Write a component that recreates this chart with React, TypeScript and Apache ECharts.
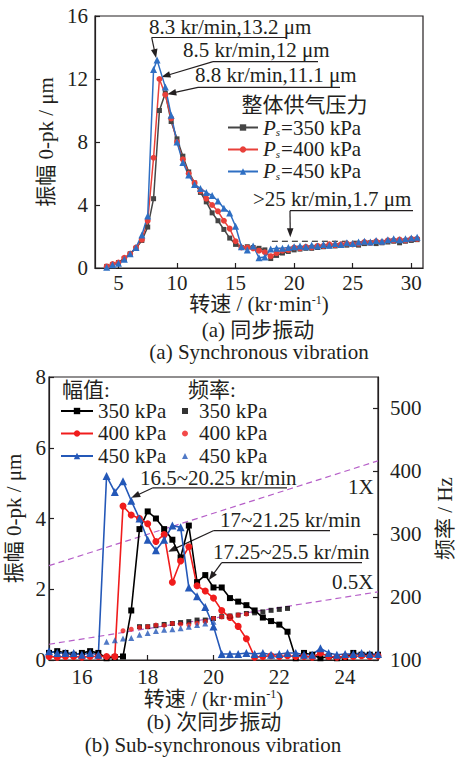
import React, { useEffect, useRef } from 'react';
import * as echarts from 'echarts';

const FONT = '"Liberation Serif", "Times New Roman", "Noto Sans CJK SC", serif';
const INK = '#231f20';
const BLACK_A = '#454545';
const RED_A = '#e8403a';
const BLUE_A = '#2f6fc3';
const BLACK_B = '#000000';
const RED_B = '#f01c1c';
const BLUE_B = '#2458b8';
const PURPLE = '#b65fc8';

// ---------- (a) synchronous vibration ----------
const pressureNames = ['Ps=350 kPa', 'Ps=400 kPa', 'Ps=450 kPa'];
const xTicksA = [5, 10, 15, 20, 25, 30];

const speedA350 = [4, 4.5, 5, 5.5, 6, 6.5, 7, 7.5, 8, 8.5, 9, 9.5, 10, 10.5, 11, 11.5, 12, 12.5, 13, 13.5, 14, 14.5, 15, 15.5, 16, 16.5, 17, 17.5, 18, 18.5, 19, 19.5, 20, 20.5, 21, 21.5, 22, 22.5, 23, 23.5, 24, 24.5, 25, 25.5, 26, 26.5, 27, 27.5, 28, 28.5, 29, 29.5, 30, 30.5];
const ampA350 = [0.1, 0.2, 0.35, 0.6, 0.9, 1.25, 1.75, 2.6, 4.4, 10.0, 11.1, 9.3, 8.2, 7.1, 6.1, 5.4, 4.8, 4.2, 3.5, 3.0, 2.45, 1.9, 1.5, 1.3, 1.35, 1.3, 1.25, 1.15, 0.6, 0.8, 0.95, 1.05, 1.15, 1.2, 1.25, 1.25, 1.3, 1.35, 1.4, 1.4, 1.45, 1.45, 1.5, 1.45, 1.55, 1.6, 1.55, 1.6, 1.65, 1.7, 1.6, 1.7, 1.75, 1.8];

const speedA400 = [4, 4.5, 5, 5.5, 6, 6.5, 7, 7.5, 8, 8.5, 9, 9.5, 10, 10.5, 11, 11.5, 12, 12.5, 13, 13.5, 14, 14.5, 15, 15.5, 16, 16.5, 17, 17.5, 18, 18.5, 19, 19.5, 20, 20.5, 21, 21.5, 22, 22.5, 23, 23.5, 24, 24.5, 25, 25.5, 26, 26.5, 27, 27.5, 28, 28.5, 29, 29.5, 30, 30.5];
const ampA400 = [0.1, 0.25, 0.35, 0.65, 0.9, 1.3, 1.8, 3.0, 7.0, 12.0, 11.0, 9.5, 8.0, 6.9, 6.0, 5.4, 4.9, 4.4, 4.0, 3.6, 3.0, 2.5, 1.7, 1.3, 1.3, 1.25, 1.1, 1.0, 0.75, 0.95, 1.1, 1.15, 1.3, 1.25, 1.35, 1.3, 1.4, 1.4, 1.5, 1.45, 1.5, 1.55, 1.5, 1.55, 1.65, 1.6, 1.7, 1.65, 1.75, 1.75, 1.8, 1.75, 1.85, 1.85];

const speedA450 = [4, 4.5, 5, 5.5, 6, 6.5, 7, 7.5, 8, 8.3, 9, 9.5, 10, 10.5, 11, 11.5, 12, 12.5, 13, 13.5, 14, 14.5, 15, 15.5, 16, 16.5, 17, 17.5, 18, 18.5, 19, 19.5, 20, 20.5, 21, 21.5, 22, 22.5, 23, 23.5, 24, 24.5, 25, 25.5, 26, 26.5, 27, 27.5, 28, 28.5, 29, 29.5, 30, 30.5];
const ampA450 = [0.05, 0.2, 0.3, 0.55, 0.9, 1.3, 2.1, 3.3, 12.6, 13.2, 11.5, 9.7, 8.0, 6.7, 5.9, 5.3, 5.05, 4.8, 4.6, 4.25, 3.8, 3.5, 2.65, 1.35, 1.15, 1.4, 0.65, 0.7, 1.2, 1.25, 1.25, 1.3, 1.35, 1.4, 1.35, 1.45, 1.4, 1.5, 1.45, 1.55, 1.5, 1.6, 1.55, 1.65, 1.7, 1.65, 1.75, 1.7, 1.8, 1.85, 1.8, 1.85, 1.9, 1.95];

const stableSpeedA = [18.1, 30.6];
const stableAmpA = [1.7, 1.7];

// ---------- (b) sub-synchronous vibration ----------
const ampNamesB = ['幅值 350 kPa', '幅值 400 kPa', '幅值 450 kPa'];
const freqNamesB = ['频率 350 kPa', '频率 400 kPa', '频率 450 kPa'];
const xTicksB = [16, 18, 20, 22, 24];
const hzTicksB = [100, 200, 300, 400, 500];

const speedB = [15, 15.25, 15.5, 15.75, 16, 16.25, 16.5, 16.75, 17, 17.25, 17.5, 17.75, 18, 18.25, 18.5, 18.75, 19, 19.25, 19.5, 19.75, 20, 20.25, 20.5, 20.75, 21, 21.25, 21.5, 21.75, 22, 22.25, 22.5, 22.75, 23, 23.25, 23.5, 23.75, 24, 24.25, 24.5, 24.75, 25];
const ampB350 = [0.2, 0.25, 0.2, 0.15, 0.2, 0.25, 0.2, 0.05, 0.08, 0.1, 1.4, 3.7, 4.2, 4.0, 3.7, 3.4, 2.9, 3.8, 2.2, 2.4, 2.05, 2.05, 1.75, 1.65, 1.55, 1.4, 1.2, 1.1, 1.0, 0.8, 0.05, 0.2, 0.15, 0.05, 0.1, 0.05, 0.08, 0.2, 0.15, 0.15, 0.15];
const ampB400 = [0.1, 0.08, 0.1, 0.1, 0.08, 0.1, 0.1, 0.1, 0.1, 4.35, 4.1, 4.0, 3.85, 3.35, 3.55, 2.2, 2.8, 3.2, 2.1, 1.95, 1.75, 1.4, 1.2, 0.95, 0.6, 0.08, 0.1, 0.12, 0.1, 0.12, 0.1, 0.1, 0.08, 0.2, 0.1, 0.08, 0.1, 0.1, 0.12, 0.1, 0.12];
const ampB450 = [0.25, 0.2, 0.2, 0.2, 0.15, 0.2, 0.15, 5.2, 4.75, 5.05, 4.5, 4.0, 3.4, 3.1, 3.4, 3.8, 3.75, 2.05, 1.8, 1.5, 0.95, 0.17, 0.17, 0.17, 0.2, 0.17, 0.2, 0.15, 0.17, 0.2, 0.2, 0.15, 0.15, 0.33, 0.2, 0.15, 0.17, 0.17, 0.2, 0.17, 0.17];

const freqSpeed350 = [17.75, 18, 18.25, 18.5, 18.75, 19, 19.25, 19.5, 19.75, 20, 20.25, 20.5, 20.75, 21, 21.25, 21.5, 21.75, 22, 22.25];
const freq350 = [153, 153, 154.5, 156.5, 158, 159.5, 161, 163.5, 163.5, 166, 169, 170, 171.5, 174, 175, 176.5, 179, 180.5, 182];
const freqSpeed400 = [17.25, 17.5, 17.75, 18, 18.25, 18.5, 18.75, 19, 19.25, 19.5, 19.75, 20, 20.25, 20.5, 20.75, 21];
const freq400 = [146.5, 149, 152, 153, 155.5, 155, 158, 157, 156, 158.5, 161, 166, 168.5, 170, 171.5, 173];
const freqSpeed450 = [16.75, 17, 17.25, 17.5, 17.75, 18, 18.25, 18.5, 18.75, 19, 19.25, 19.5, 19.75, 20];
const freq450 = [129, 131.5, 134, 135, 140, 143, 146, 148, 149, 150.5, 153, 155.5, 158, 161];

const orderSpeed = [15, 25];
const order1X = [250, 416.7];
const order05X = [125, 208.3];

// ---------- annotations ----------
const notesA = [
  { label: '8.3 kr/min,13.2 μm', at: [8.3, 13.2], shift: [-1, -2], textLeft: 149, textMid: 27, lineY: 37.5, lineFrom: 151.7, lineTo: 286 },
  { label: '8.5 kr/min,12 μm', at: [8.5, 12], shift: [2, -2], textLeft: 183, textMid: 50, lineY: 61.7, lineFrom: 213, lineTo: 318 },
  { label: '8.8 kr/min,11.1 μm', at: [9.0, 11.1], shift: [2, 1], textLeft: 195, textMid: 75, lineY: 87.3, lineFrom: 198, lineTo: 340 },
  { label: '>25 kr/min,1.7 μm', at: [19.67, 1.7], shift: [0, -4], textLeft: 253, textMid: 199, lineY: 210.7, lineFrom: 290, lineTo: 413 },
];
const notesB = [
  { label: '16.5~20.25 kr/min', at: [17.5, 4.5], shift: [0, -3], textLeft: 140, textMid: 477.8, lineY: 487.8, lineFrom: 153, lineTo: 287 },
  { label: '17~21.25 kr/min', at: [18.62, 3.06], shift: [0, 0], textLeft: 220, textMid: 520, lineY: 530.7, lineFrom: 213.3, lineTo: 330 },
  { label: '17.25~25.5 kr/min', at: [19.86, 2.26], shift: [0, 0], textLeft: 213, textMid: 551.7, lineY: 562.7, lineFrom: 221.7, lineTo: 362 },
];

const zip = (xs: number[], ys: number[]) => xs.map((x, i) => [x, ys[i]]);

const axisBase = (extra: any) => ({
  axisLine: { show: true, onZero: false, lineStyle: { color: INK, width: 1.2 } },
  splitLine: { show: false },
  nameTextStyle: { color: INK, fontSize: 21, fontFamily: FONT },
  ...extra,
});

const txt = (text: string, x: number, y: number, align = 'left', size = 21, lineHeight = 20) => ({
  type: 'text',
  x,
  y,
  silent: true,
  style: {
    text,
    fontSize: size,
    fontFamily: FONT,
    lineHeight,
    fill: INK,
    align,
    verticalAlign: 'middle',
    textAlign: align,
    textVerticalAlign: 'middle',
  },
});

function arrowEls(from: number[], to: number[]) {
  const dx = to[0] - from[0];
  const dy = to[1] - from[1];
  const len = Math.hypot(dx, dy) || 1;
  const ux = dx / len;
  const uy = dy / len;
  const hl = 9;
  const hw = 3.3;
  const bx = to[0] - ux * hl;
  const by = to[1] - uy * hl;
  return [
    { type: 'line', silent: true, shape: { x1: from[0], y1: from[1], x2: bx + ux, y2: by + uy }, style: { stroke: INK, lineWidth: 1.2 } },
    {
      type: 'polygon',
      silent: true,
      shape: { points: [[to[0], to[1]], [bx - uy * hw, by + ux * hw], [bx + uy * hw, by - ux * hw]] },
      style: { fill: INK },
    },
  ];
}

function buildOption() {
  const lineA = (name: string, xs: number[], ys: number[], color: string, symbol: string, size: number) => ({
    type: 'line',
    name,
    xAxisIndex: 0,
    yAxisIndex: 0,
    data: zip(xs, ys),
    symbol,
    symbolSize: size,
    showSymbol: true,
    lineStyle: { color, width: 1.5 },
    itemStyle: { color },
    z: 3,
  });
  const lineB = (name: string, ys: number[], color: string, symbol: string, size: number) => ({
    type: 'line',
    name,
    xAxisIndex: 1,
    yAxisIndex: 1,
    data: zip(speedB, ys),
    symbol,
    symbolSize: size,
    lineStyle: { color, width: 1.6 },
    itemStyle: { color },
    z: 3,
  });
  const scatterB = (name: string, xs: number[], ys: number[], color: string, symbol: string, size: number) => ({
    type: 'scatter',
    name,
    xAxisIndex: 1,
    yAxisIndex: 2,
    data: zip(xs, ys),
    symbol,
    symbolSize: size,
    itemStyle: { color },
    z: 4,
  });
  const dashed = (name: string, xs: number[], ys: number[], color: string, xi: number, yi: number) => ({
    type: 'line',
    name,
    xAxisIndex: xi,
    yAxisIndex: yi,
    data: zip(xs, ys),
    showSymbol: false,
    symbol: 'none',
    lineStyle: { color, width: 1.2, type: [6, 4] },
    z: 2,
  });
  const nameRich = { sup: { fontSize: 12, fontFamily: FONT, color: INK, verticalAlign: 'top' } };

  return {
    animation: false,
    backgroundColor: '#ffffff',
    textStyle: { fontFamily: FONT },
    grid: [
      { left: 95, top: 16, width: 328, height: 252, show: true, borderColor: INK, borderWidth: 1.2, containLabel: false, outerBoundsMode: 'none' },
      { left: 49, top: 377, width: 329, height: 283, show: true, borderColor: INK, borderWidth: 1.2, containLabel: false, outerBoundsMode: 'none' },
    ],
    xAxis: [
      axisBase({
        type: 'value',
        gridIndex: 0,
        min: 3,
        max: 31,
        axisTick: { show: true, inside: true, length: 5, customValues: xTicksA, lineStyle: { color: INK, width: 1.2 } },
        axisLabel: { customValues: xTicksA, color: INK, fontSize: 21, fontFamily: FONT, margin: 4 },
        name: '转速 / (kr·min{sup|-1})',
        nameLocation: 'middle',
        nameGap: 24,
        nameTextStyle: { color: INK, fontSize: 21, fontFamily: FONT, rich: nameRich },
      }),
      axisBase({
        type: 'value',
        gridIndex: 1,
        min: 15,
        max: 25,
        axisTick: { show: true, inside: true, length: 5, customValues: xTicksB, lineStyle: { color: INK, width: 1.2 } },
        axisLabel: { customValues: xTicksB, color: INK, fontSize: 21, fontFamily: FONT, margin: 6 },
        name: '转速 / (kr·min{sup|-1})',
        nameLocation: 'middle',
        nameGap: 28,
        nameTextStyle: { color: INK, fontSize: 21, fontFamily: FONT, rich: nameRich },
      }),
    ],
    yAxis: [
      axisBase({
        type: 'value',
        gridIndex: 0,
        min: 0,
        max: 16,
        interval: 4,
        axisTick: { show: true, inside: true, length: 5, lineStyle: { color: INK, width: 1.2 } },
        axisLabel: { color: INK, fontSize: 21, fontFamily: FONT, margin: 7 },
        name: '振幅 0-pk / μm',
        nameLocation: 'middle',
        nameRotate: 90,
        nameGap: 28,
      }),
      axisBase({
        type: 'value',
        gridIndex: 1,
        min: 0,
        max: 8,
        interval: 2,
        axisTick: { show: true, inside: true, length: 5, lineStyle: { color: INK, width: 1.2 } },
        axisLabel: { color: INK, fontSize: 21, fontFamily: FONT, margin: 3 },
        name: '振幅 0-pk / μm',
        nameLocation: 'middle',
        nameRotate: 90,
        nameGap: 18,
      }),
      axisBase({
        type: 'value',
        gridIndex: 1,
        position: 'right',
        min: 100,
        max: 550,
        axisTick: { show: true, inside: true, length: 5, customValues: hzTicksB, lineStyle: { color: INK, width: 1.2 } },
        axisLabel: { customValues: hzTicksB, color: INK, fontSize: 21, fontFamily: FONT, margin: 12 },
        name: '频率 / Hz',
        nameLocation: 'middle',
        nameRotate: 90,
        nameGap: 56,
      }),
    ],
    legend: [
      {
        left: 227,
        top: 117,
        orient: 'vertical',
        padding: 0,
        itemWidth: 30,
        itemHeight: 8,
        itemGap: 1,
        selectedMode: false,
        data: pressureNames,
        formatter: (name: string) => `{p|P}{s|s}{n|=${name.split('=')[1]}}`,
        textStyle: {
          color: INK,
          fontSize: 21,
          fontFamily: FONT,
          lineHeight: 19.3,
          rich: {
            p: { fontSize: 21, fontFamily: FONT, fontStyle: 'italic', color: INK, lineHeight: 19.3 },
            s: { fontSize: 11, fontFamily: FONT, fontStyle: 'italic', color: INK, verticalAlign: 'bottom', lineHeight: 19.3, padding: [0, 1, 0, 0] },
            n: { fontSize: 21, fontFamily: FONT, color: INK, lineHeight: 19.3 },
          },
        },
      },
      {
        left: 60,
        top: 400.5,
        orient: 'vertical',
        padding: 0,
        itemWidth: 32,
        itemHeight: 8,
        itemGap: 1.5,
        selectedMode: false,
        data: ampNamesB,
        formatter: (name: string) => name.split(' ').slice(1).join(' '),
        textStyle: { color: INK, fontSize: 21, fontFamily: FONT, lineHeight: 19.5 },
      },
      {
        left: 182,
        top: 400.5,
        orient: 'vertical',
        padding: 0,
        itemWidth: 6,
        itemHeight: 6,
        itemGap: 1.5,
        selectedMode: false,
        data: freqNamesB,
        formatter: (name: string) => name.split(' ').slice(1).join(' '),
        textStyle: { color: INK, fontSize: 21, fontFamily: FONT, lineHeight: 19.5, padding: [0, 0, 0, 6] },
      },
    ],
    series: [
      lineA(pressureNames[0], speedA350, ampA350, BLACK_A, 'rect', 5),
      lineA(pressureNames[1], speedA400, ampA400, RED_A, 'circle', 6),
      lineA(pressureNames[2], speedA450, ampA450, BLUE_A, 'triangle', 7),
      dashed('稳定值', stableSpeedA, stableAmpA, '#111111', 0, 0),
      dashed('1X', orderSpeed, order1X, PURPLE, 1, 2),
      dashed('0.5X', orderSpeed, order05X, PURPLE, 1, 2),
      lineB(ampNamesB[0], ampB350, BLACK_B, 'rect', 6),
      lineB(ampNamesB[1], ampB400, RED_B, 'circle', 7),
      lineB(ampNamesB[2], ampB450, BLUE_B, 'triangle', 8),
      scatterB(freqNamesB[0], freqSpeed350, freq350, BLACK_B, 'rect', 5),
      scatterB(freqNamesB[1], freqSpeed400, freq400, RED_B, 'circle', 5),
      scatterB(freqNamesB[2], freqSpeed450, freq450, BLUE_B, 'triangle', 6),
    ],
  };
}

export default function App() {
  const ref = useRef<HTMLDivElement>(null);
  useEffect(() => {
    if (!ref.current) return;
    const chart = echarts.init(ref.current, null, { renderer: 'svg' });
    chart.setOption(buildOption() as any);

    const els: any[] = [];
    const addNotes = (notes: typeof notesA, xi: number, yi: number) => {
      notes.forEach((n) => {
        const p = chart.convertToPixel({ xAxisIndex: xi, yAxisIndex: yi } as any, n.at) as number[];
        const tip = [p[0] + n.shift[0], p[1] + n.shift[1]];
        els.push(txt(n.label, n.textLeft, n.textMid));
        els.push({ type: 'line', silent: true, shape: { x1: n.lineFrom, y1: n.lineY, x2: n.lineTo, y2: n.lineY }, style: { stroke: INK, lineWidth: 1.2 } });
        els.push(...arrowEls([n.lineFrom, n.lineY], tip));
      });
    };
    addNotes(notesA, 0, 0);
    addNotes(notesB, 1, 1);

    els.push(txt('整体供气压力', 304.5, 104.5, 'center'));
    els.push(txt('幅值:', 62, 389.7));
    els.push(txt('频率:', 188, 389.7));
    els.push(txt('1X', 348, 486.7));
    els.push(txt('0.5X', 332, 581.7));
    els.push(txt('(a) 同步振动', 258, 330, 'center'));
    els.push(txt('(a) Synchronous vibration', 259, 352, 'center'));
    els.push(txt('(b) 次同步振动', 214, 721.7, 'center'));
    els.push(txt('(b) Sub-synchronous vibration', 213, 745, 'center'));

    chart.setOption({ graphic: els } as any);
    return () => chart.dispose();
  }, []);
  return <div ref={ref} style={{ position: 'absolute', left: 0, top: 0, width: 457, height: 757 }} />;
}
